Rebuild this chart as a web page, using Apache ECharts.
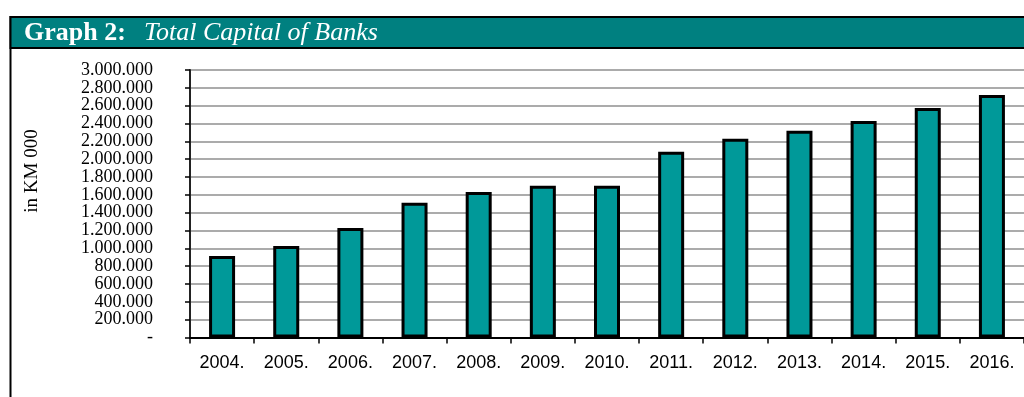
<!DOCTYPE html>
<html>
<head>
<meta charset="utf-8">
<script src="https://cdn.jsdelivr.net/npm/echarts@6/dist/echarts.min.js"></script>
<style>
  html, body { margin: 0; padding: 0; background: #fff; }
  #chart { width: 1024px; height: 397px; }
</style>
</head>
<body>
<div id="chart"></div>
<script>
// data (in KM 000)
const years = ['2004.', '2005.', '2006.', '2007.', '2008.', '2009.', '2010.',
  '2011.', '2012.', '2013.', '2014.', '2015.', '2016.']
const capital = [914000, 1026000, 1228000, 1510000, 1633000, 1701000, 1702000,
  2083000, 2228000, 2318000, 2429000, 2575000, 2720000]

// 3000000 -> "3.000.000", 0 -> "-"
const fmtDots = v => v === 0 ? '-' : String(v).replace(/\B(?=(\d{3})+(?!\d))/g, '.')

const chart = echarts.init(document.getElementById('chart'))

chart.setOption({
  animation: false,
  grid: { left: 190, right: -2, top: 70, bottom: 59.5 },
  graphic: [
    // frame on the left
    { type: 'line', shape: { x1: 10.5, y1: 16, x2: 10.5, y2: 397 },
      style: { stroke: '#000', lineWidth: 2 } },
    // title band
    { type: 'rect', shape: { x: 10.5, y: 17, width: 1030, height: 31 },
      style: { fill: '#008080', stroke: '#000', lineWidth: 2 } },
    { type: 'text', x: 24, y: 33,
      style: { text: 'Graph 2:', fontFamily: 'Liberation Serif', fontWeight: 'bold',
        fontSize: 26, fill: '#fff', verticalAlign: 'middle' } },
    { type: 'text', x: 144, y: 33,
      style: { text: 'Total Capital of Banks', fontFamily: 'Liberation Serif', fontStyle: 'italic',
        fontSize: 26, fill: '#fff', verticalAlign: 'middle' } },
    // y axis title
    { type: 'text', x: 32, y: 171, rotation: Math.PI / 2,
      style: { text: 'in KM 000', fontFamily: 'Liberation Serif', fontSize: 19,
        fill: '#000', align: 'center', verticalAlign: 'middle' } }
  ],
  xAxis: {
    type: 'category',
    data: years,
    axisLine: { lineStyle: { color: '#000', width: 2 } },
    axisTick: { show: true, length: 6, lineStyle: { color: '#000', width: 1.5 } },
    axisLabel: { fontFamily: 'Liberation Sans', fontSize: 18, color: '#000', margin: 17 }
  },
  yAxis: {
    type: 'value',
    min: 0,
    max: 3000000,
    interval: 200000,
    axisLine: { show: true, lineStyle: { color: '#222', width: 2 } },
    axisTick: { show: true, length: 5, lineStyle: { color: '#000', width: 1.5 } },
    splitLine: { lineStyle: { color: '#8f8f8f', width: 1.5 } },
    axisLabel: {
      fontFamily: 'Liberation Serif', fontSize: 18, color: '#000', margin: 37,
      formatter: fmtDots
    }
  },
  series: [{
    type: 'bar',
    data: capital,
    barWidth: 26,
    itemStyle: { color: '#009999', borderColor: '#000', borderWidth: 3 }
  }]
})
</script>
</body>
</html>
